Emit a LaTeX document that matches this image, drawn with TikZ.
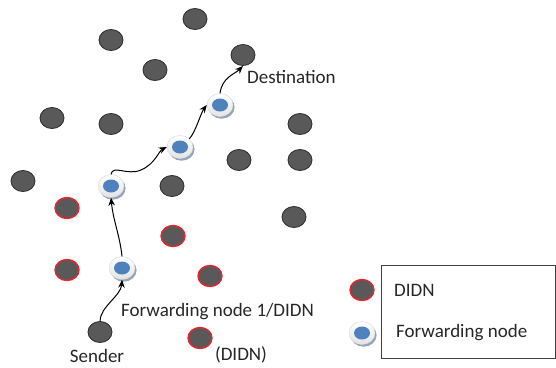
\documentclass[tikz,border=0pt]{standalone}
\usepackage{fontspec}
\setmainfont{Carlito}
\usetikzlibrary{shapes.geometric,arrows.meta,shadows}
\definecolor{nodegray}{HTML}{595959}
\definecolor{nodeedge}{HTML}{333333}
\definecolor{didnred}{HTML}{E8262B}
\definecolor{fwdblue}{HTML}{4F81BD}
\definecolor{fwdshadow}{HTML}{8494AA}
\tikzset{
  plain/.style={ellipse, minimum width=24pt, minimum height=21pt, inner sep=0pt,
    fill=nodegray, draw=nodeedge, line width=0.9pt},
  didn/.style={plain, draw=didnred, line width=1.4pt},
  fwd/.style={ellipse, minimum width=26pt, minimum height=23pt, inner sep=0pt,
    top color=white, bottom color=gray!22, draw=gray!30, line width=0.4pt,
    drop shadow={shadow xshift=1.6pt, shadow yshift=-2.2pt, fill=fwdshadow, opacity=0.85},
    path picture={\fill[fwdblue] (path picture bounding box.center) ellipse (8pt and 6.5pt);}},
  hop/.style={-{Stealth[length=8pt,width=6.5pt]}, line width=1pt, black},
  lbl/.style={inner sep=0pt, font=\fontsize{19}{22}\selectfont, text=black!85},
}
\begin{document}
\begin{tikzpicture}[x=1pt,y=-1pt]
\useasboundingbox (0,0) rectangle (556,367);

% ordinary nodes
\node[plain] (g1) at (195,19) {};
\node[plain] (g2) at (111,40) {};
\node[plain] (g3) at (155,70) {};
\node[plain] (dest) at (243,55) {};
\node[plain] (g4) at (52,118) {};
\node[plain] (g5) at (111,124) {};
\node[plain] (g6) at (300,124) {};
\node[plain] (g7) at (239,160) {};
\node[plain] (g8) at (300,160) {};
\node[plain] (g9) at (23,181) {};
\node[plain] (g10) at (172,186) {};
\node[plain] (g11) at (294,217) {};
\node[plain] (send) at (100,332) {};

% DIDN nodes
\node[didn] (d1) at (67,208) {};
\node[didn] (d2) at (173,236) {};
\node[didn] (d3) at (67,270) {};
\node[didn] (d4) at (210,276) {};
\node[didn] (d5) at (200,338) {};

% forwarding nodes
\node[fwd] (f1) at (122,268) {};
\node[fwd] (f2) at (111,186) {};
\node[fwd] (f3) at (180,147) {};
\node[fwd] (f4) at (220,105) {};

% route from sender to destination
\draw[hop] (send.north) .. controls +(0,-14) and +(-1,16) .. (f1.south);
\draw[hop] (f1.north) .. controls +(-2,-20) and +(2,22) .. (f2.south);
\draw[hop] (f2.north) .. controls +(2,-10) and +(-14,6) .. (141,170)
  .. controls +(14,-6) and +(-8,4) .. (f3.west);
\draw[hop] (f3.north east) .. controls +(6,-6) and +(-6,8) .. (f4.west);
\draw[hop] (f4.north) .. controls +(2,-16) and +(-8,8) .. (dest.south);

% labels
\node[lbl, anchor=west] (tdest) at (247,77) {Destination};
\node[lbl, anchor=west] (tfwd) at (121,312) {Forwarding node 1/DIDN};
\node[lbl] (tsend) at (97,356) {Sender};
\node[lbl] (tdidn) at (241,355) {(DIDN)};

% legend
\node[draw=black!75, line width=0.8pt, minimum width=174pt, minimum height=93pt, inner sep=0pt]
  (legend) at (468,311.5) {};
\node[didn] (ld) at (362,290) {};
\node[fwd] (lf) at (362,333) {};
\node[lbl, anchor=west] (ltd) at (394,290) {DIDN};
\node[lbl, anchor=west] (ltf) at (396,333) {Forwarding node};
\end{tikzpicture}
\end{document}
